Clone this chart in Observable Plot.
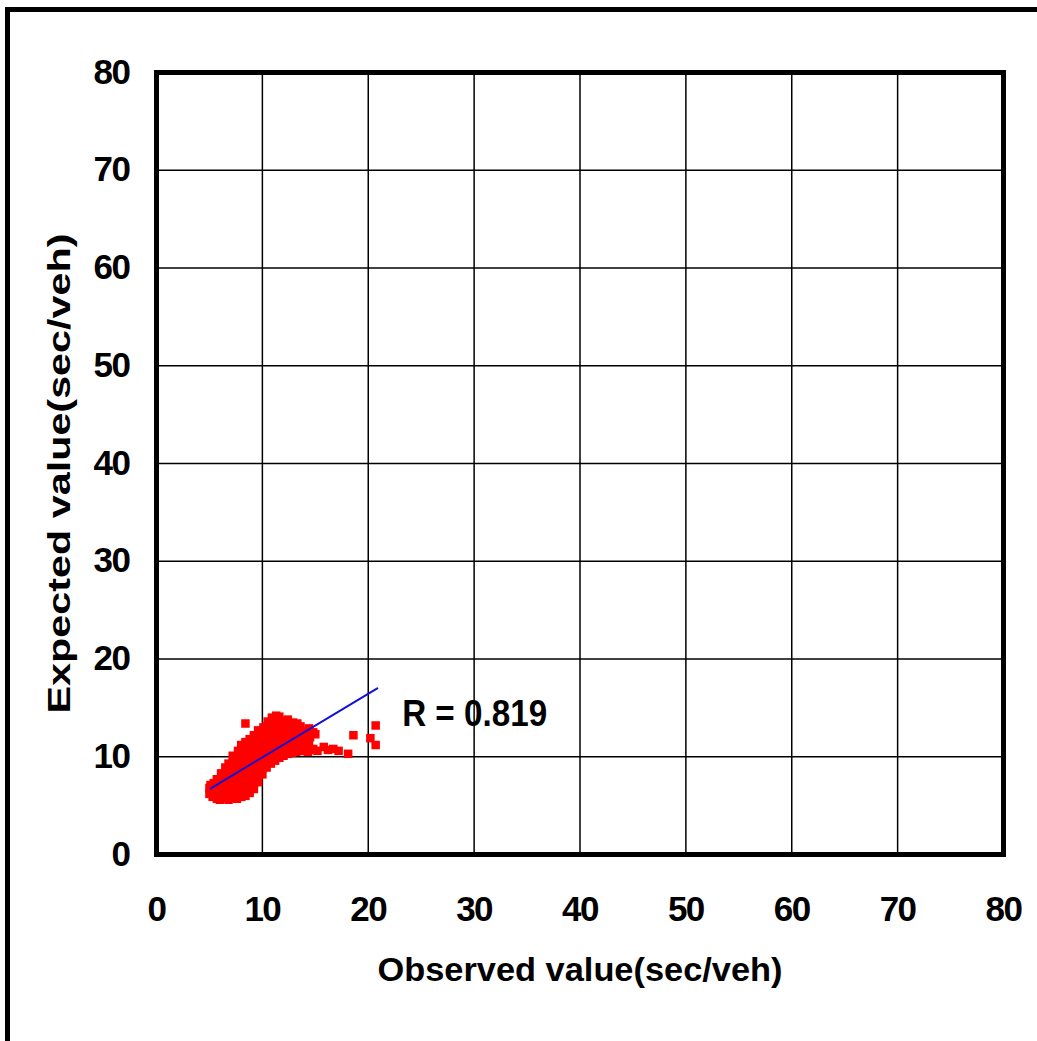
<!DOCTYPE html>
<html>
<head>
<meta charset="utf-8">
<script src="https://cdn.jsdelivr.net/npm/d3@7"></script>
<script src="https://cdn.jsdelivr.net/npm/@observablehq/plot@0.6"></script>
<style>
  html, body { margin: 0; padding: 0; background: #fff; overflow: hidden; }
  #wrap { position: relative; width: 1037px; height: 1041px; }
  #outer { position: absolute; left: 5px; top: 7px; width: 1100px; height: 1100px;
           border: 5px solid #000; box-sizing: border-box; }
  #chart { position: absolute; left: 0; top: 0; }
  svg text { font-family: "Liberation Sans", Arial, sans-serif; font-weight: bold; }
</style>
</head>
<body>
<div id="wrap">
  <div id="outer"></div>
  <div id="chart"></div>
</div>
<script>
// Observed vs expected delay (sec/veh), one [observed, expected] pair per sample
const delayPoints = [
  [5.0, 6.2], [5.0, 6.8], [5.1, 7.1],
  [5.3, 5.9], [5.3, 6.5], [5.4, 7.3],
  [5.7, 5.7], [5.7, 6.3], [5.8, 6.9], [5.7, 7.7],
  [6.0, 5.6], [6.0, 6.2], [6.1, 6.8], [6.0, 7.4], [6.1, 8.3],
  [6.4, 5.8], [6.4, 6.4], [6.5, 7.0], [6.4, 7.6], [6.4, 8.2], [6.5, 8.9],
  [6.8, 5.6], [6.8, 6.1], [6.9, 6.7], [6.8, 7.3], [6.8, 7.9], [6.9, 8.5], [6.8, 9.3],
  [7.2, 5.8], [7.2, 6.4], [7.3, 7.0], [7.2, 7.6], [7.2, 8.2], [7.3, 8.8], [7.2, 9.4], [7.2, 10.1],
  [7.6, 5.7], [7.6, 6.3], [7.7, 6.9], [7.6, 7.5], [7.6, 8.1], [7.7, 8.7], [7.6, 9.3], [7.6, 9.9], [7.7, 10.6],
  [8.0, 5.9], [8.0, 6.5], [8.1, 7.1], [8.0, 7.7], [8.0, 8.3], [8.1, 8.9], [8.0, 9.5], [8.0, 10.1], [8.1, 10.7], [8.0, 11.2],
  [8.4, 6.0], [8.4, 6.6], [8.5, 7.2], [8.4, 7.8], [8.4, 8.4], [8.5, 9.0], [8.4, 9.6], [8.4, 10.2], [8.5, 10.8], [8.4, 11.5], [8.4, 13.4],
  [8.8, 6.3], [8.8, 6.9], [8.9, 7.5], [8.8, 8.1], [8.8, 8.7], [8.9, 9.3], [8.8, 9.9], [8.8, 10.5], [8.9, 11.1], [8.8, 11.8],
  [9.2, 6.7], [9.2, 7.3], [9.3, 7.9], [9.2, 8.5], [9.2, 9.1], [9.3, 9.7], [9.2, 10.3], [9.2, 10.9], [9.3, 11.5], [9.2, 12.2],
  [9.6, 7.4], [9.6, 8.0], [9.7, 8.6], [9.6, 9.2], [9.6, 9.8], [9.7, 10.4], [9.6, 11.0], [9.6, 11.6], [9.7, 12.3], [9.6, 12.7],
  [10.0, 8.2], [10.0, 8.8], [10.1, 9.4], [10.0, 10.0], [10.0, 10.6], [10.1, 11.2], [10.0, 11.8], [10.0, 12.4], [10.1, 13.0],
  [10.4, 8.9], [10.4, 9.5], [10.5, 10.1], [10.4, 10.7], [10.4, 11.3], [10.5, 11.9], [10.4, 12.5], [10.4, 13.1], [10.5, 13.6],
  [10.8, 9.3], [10.8, 9.9], [10.9, 10.5], [10.8, 11.1], [10.8, 11.7], [10.9, 12.3], [10.8, 12.9], [10.8, 13.5], [10.9, 14.0],
  [11.2, 9.6], [11.2, 10.2], [11.3, 10.8], [11.2, 11.4], [11.2, 12.0], [11.3, 12.6], [11.2, 13.2], [11.2, 13.8], [11.3, 14.2],
  [11.6, 9.9], [11.6, 10.5], [11.7, 11.1], [11.6, 11.7], [11.6, 12.3], [11.7, 12.9], [11.6, 13.5], [11.6, 14.1],
  [12.0, 10.1], [12.0, 10.7], [12.1, 11.3], [12.0, 11.9], [12.0, 12.5], [12.1, 13.1], [12.0, 13.7],
  [12.4, 10.3], [12.4, 10.9], [12.5, 11.5], [12.4, 12.1], [12.4, 12.7], [12.5, 13.3], [12.4, 13.8],
  [12.8, 10.4], [12.8, 11.0], [12.9, 11.6], [12.8, 12.2], [12.8, 12.8], [12.9, 13.5],
  [13.2, 10.5], [13.2, 11.1], [13.3, 11.7], [13.2, 12.3], [13.2, 12.9], [13.3, 13.4],
  [13.6, 10.6], [13.6, 11.2], [13.7, 11.8], [13.6, 12.4], [13.6, 13.1],
  [14.0, 10.6], [14.0, 11.3], [14.1, 11.9], [14.0, 12.6],
  [14.3, 10.5], [14.4, 10.7], [14.4, 11.4], [14.5, 12.0], [14.4, 12.9],
  [14.8, 10.8], [14.8, 12.5], [15.0, 12.3],
  [15.2, 10.6], [15.8, 11.0], [16.2, 10.7], [16.7, 10.8], [17.2, 10.6], [18.1, 10.3],
  [18.6, 12.2], [20.2, 11.9], [20.7, 13.2], [20.7, 11.2]
];

// Least-squares fit line endpoints over the observed range
const fitObserved = [5.1, 20.85];
const fitExpected = [6.75, 17.0];

const correlationLabel = "R = 0.819";
const axisTicks = [0, 10, 20, 30, 40, 50, 60, 70, 80];
const xTitle = "Observed value(sec/veh)";
const yTitle = "Expected value(sec/veh)";

const fitLine = fitObserved.map((x, i) => ({x, y: fitExpected[i]}));

const chart = Plot.plot({
  width: 1037,
  height: 1041,
  marginLeft: 156,
  marginRight: 34,
  marginTop: 72,
  marginBottom: 187,
  style: {background: "transparent", fontFamily: "'Liberation Sans', Arial, sans-serif"},
  x: {domain: [0, 80], ticks: axisTicks},
  y: {domain: [0, 80], ticks: axisTicks},
  marks: [
    Plot.gridX(axisTicks, {stroke: "#000", strokeOpacity: 1, strokeWidth: 1.5}),
    Plot.gridY(axisTicks, {stroke: "#000", strokeOpacity: 1, strokeWidth: 1.5}),
    Plot.dot(delayPoints, {x: d => d[0], y: d => d[1], symbol: "square", r: 4.8, fill: "#ff0000", stroke: "none"}),
    Plot.line(fitLine, {x: "x", y: "y", stroke: "#1010d8", strokeWidth: 2}),
    Plot.frame({stroke: "#000", strokeWidth: 5}),
    Plot.axisX(axisTicks, {tickSize: 0, tickPadding: 42, fontSize: 35, label: null, fill: "#000"}),
    Plot.axisY(axisTicks, {tickSize: 0, tickPadding: 27, fontSize: 35, label: null, fill: "#000"}),
    Plot.text([correlationLabel], {x: 23.2, y: 14.4, text: d => d, textAnchor: "start",
      fontSize: 37, fill: "#000"}),
    Plot.text([xTitle], {frameAnchor: "bottom", text: d => d, textAnchor: "middle", dy: 126, fontSize: 34, fill: "#000"}),
    Plot.text([yTitle], {frameAnchor: "left", text: d => d, textAnchor: "middle", rotate: -90, dx: -96, dy: 10, fontSize: 31, fill: "#000"})
  ]
});

// Fit the titles to their drawn lengths
d3.select(chart).selectAll("text").each(function () {
  const t = this.textContent;
  if (t === xTitle) this.setAttribute("textLength", 405);
  else if (t === yTitle) this.setAttribute("textLength", 480);
  else if (t === correlationLabel) this.setAttribute("textLength", 145);
  else return;
  this.setAttribute("lengthAdjust", "spacingAndGlyphs");
});
d3.select(chart).selectAll("g[aria-label='x-axis tick label'] text, g[aria-label='y-axis tick label'] text")
  .attr("letter-spacing", "-1.5");

document.getElementById("chart").appendChild(chart);
</script>
</body>
</html>
